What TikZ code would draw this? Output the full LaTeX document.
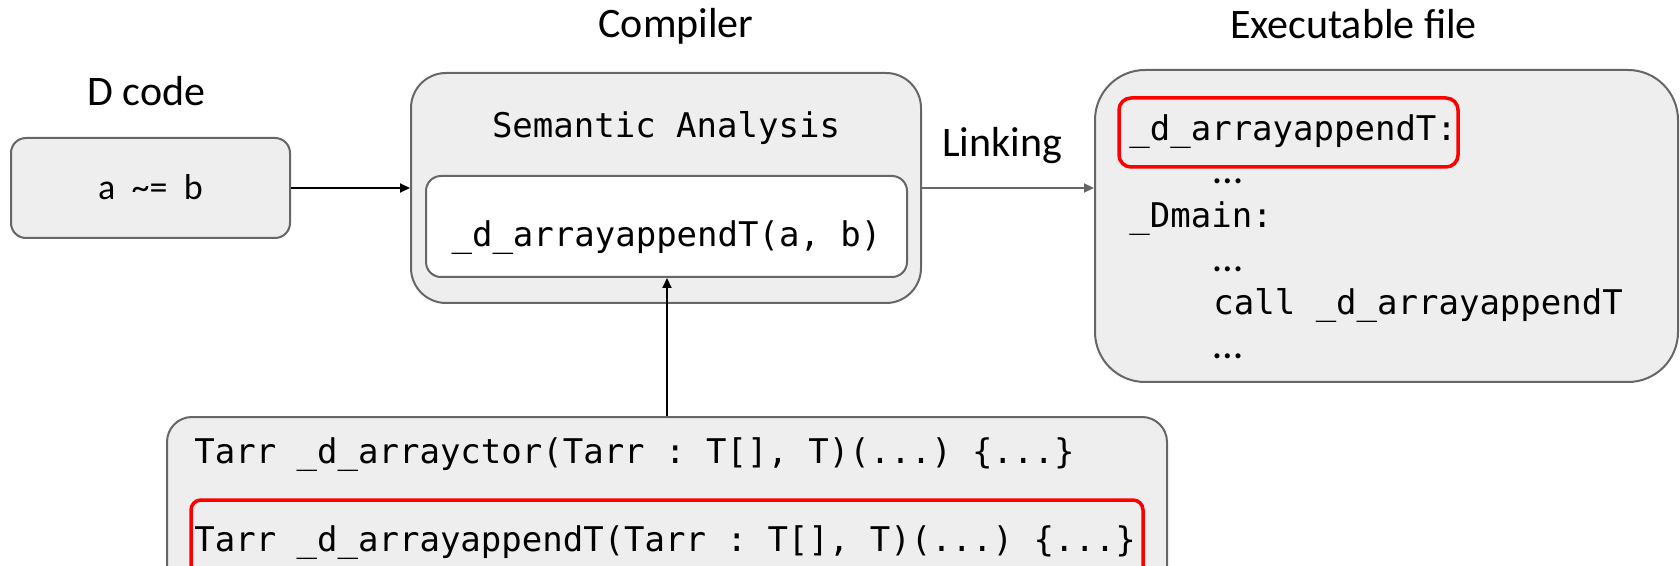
\documentclass[tikz,border=0pt]{standalone}
\usepackage{fontspec}
\setmainfont{Carlito}
\setmonofont{DejaVu Sans Mono}
\usetikzlibrary{arrows.meta}
\definecolor{boxfill}{HTML}{EEEEEE}
\definecolor{boxline}{HTML}{666666}
\definecolor{hilite}{HTML}{FF0000}

\begin{document}
\begin{tikzpicture}[x=0.5pt,y=-0.5pt,
  box/.style={draw=boxline,fill=boxfill,line width=1pt,inner sep=0pt},
  hl/.style={draw=hilite,line width=1.75pt,inner sep=0pt},
  caption/.style={font=\fontsize{21pt}{25pt}\selectfont,anchor=base,inner sep=0pt},
  code/.style={font=\ttfamily\fontsize{17pt}{20pt}\selectfont,anchor=base west,inner sep=0pt},
  dots/.style={font=\fontsize{21pt}{25pt}\selectfont,anchor=base west,inner sep=0pt},
  link/.style={line width=1pt,-{Triangle[length=5pt,width=4.5pt]}},
]
\useasboundingbox (0,0) rectangle (1680,566);

% boxes
\node[box,rounded corners=7.5pt,minimum width=139.5pt,minimum height=50pt] (dcode) at (150.5,188) {};
\node[box,rounded corners=17.5pt,minimum width=255pt,minimum height=115pt] (comp) at (666,188) {};
\node[box,fill=white,rounded corners=7.5pt,minimum width=240.5pt,minimum height=50.5pt] (inner) at (666.5,226.5) {};
\node[box,rounded corners=25pt,minimum width=291.5pt,minimum height=156pt] (exe) at (1386.5,226) {};
\node[box,rounded corners=12.5pt,minimum width=500pt,minimum height=89pt] (lib) at (667,506) {};

% highlights
\node[hl,rounded corners=6pt,minimum width=169.5pt,minimum height=34.5pt] (hlexe) at (1288.5,132.5) {};
\node[hl,rounded corners=5pt,minimum width=476pt,minimum height=42.5pt] (hllib) at (667,542.5) {};

% captions
\node[caption] (tdcode) at (146.5,106) {D code};
\node[caption] (tcomp) at (676,38) {Compiler};
\node[caption] (texe) at (1353.5,39) {Executable file};
\node[caption] (tlink) at (1002,157) {Linking};

% box contents
\node[caption,font=\fontsize{18pt}{22pt}\selectfont] (tsrc) at (150.5,200) {a\ \ \textasciitilde=\ \ b};
\node[code,anchor=base] (tsem) at (666,138) {Semantic Analysis};
\node[code,anchor=base] (tcall) at (666.5,247) {\_d\_arrayappendT(a, b)};

\node[code] (e1) at (1129,141) {\_d\_arrayappendT:};
\node[dots] (e2) at (1213,184) {…};
\node[code] (e3) at (1129,228) {\_Dmain:};
\node[dots] (e4) at (1213,272) {…};
\node[code] (e5) at (1213,315) {call \_d\_arrayappendT};
\node[dots] (e6) at (1213,358) {…};

\node[code] (l1) at (194,463) {Tarr \_d\_arrayctor(Tarr : T[], T)(...) \{...\}};
\node[code] (l2) at (194,551) {Tarr \_d\_arrayappendT(Tarr : T[], T)(...) \{...\}};

% connectors
\draw[link] (dcode.east) -- (comp.west);
\draw[link,draw=boxline,fill=boxline] (comp.east) -- (comp.east -| exe.west);
\draw[link] (lib.north) -- (lib.north |- inner.south);
\end{tikzpicture}
\end{document}
